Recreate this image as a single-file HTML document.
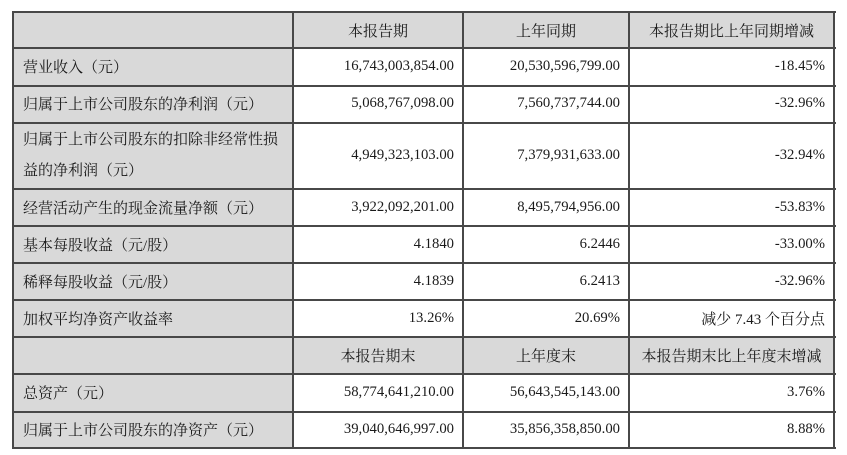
<!DOCTYPE html>
<html><head><meta charset="utf-8">
<style>
html,body{margin:0;padding:0;background:#fff;}
body{width:847px;height:455px;position:relative;overflow:hidden;
font-family:"Liberation Serif","Noto Serif CJK SC",serif;font-size:14.7px;color:#1a1a1a;}
.g{position:absolute;background:#d9d9d9;}
.h{position:absolute;left:12px;width:824px;height:2px;background:#484848;}
.v{position:absolute;top:11px;height:438px;width:2px;background:#484848;}
.c{position:absolute;display:flex;align-items:center;white-space:nowrap;}
.l{justify-content:flex-start;padding-left:10px;box-sizing:border-box;font-size:15px;}
.r{justify-content:flex-end;padding-right:9px;box-sizing:border-box;}
.m{justify-content:center;font-size:15px;}
</style></head><body>
<div class="g" style="left:13px;top:12px;width:821px;height:36px"></div>
<div class="g" style="left:13px;top:12px;width:280px;height:436px"></div>
<div class="g" style="left:13px;top:337px;width:821px;height:37px"></div>

<div class="h" style="top:11px"></div>
<div class="h" style="top:47px"></div>
<div class="h" style="top:85px"></div>
<div class="h" style="top:122px"></div>
<div class="h" style="top:188px"></div>
<div class="h" style="top:225px"></div>
<div class="h" style="top:262px"></div>
<div class="h" style="top:299px"></div>
<div class="h" style="top:336px"></div>
<div class="h" style="top:373px"></div>
<div class="h" style="top:411px"></div>
<div class="h" style="top:447px"></div>

<div class="v" style="left:12px"></div>
<div class="v" style="left:292px"></div>
<div class="v" style="left:462px"></div>
<div class="v" style="left:628px"></div>
<div class="v" style="left:833px"></div>

<!-- header 1 -->
<div class="c m" style="left:293px;top:12px;width:170px;height:36px">本报告期</div>
<div class="c m" style="left:463px;top:12px;width:166px;height:36px">上年同期</div>
<div class="c m" style="left:629px;top:12px;width:205px;height:36px">本报告期比上年同期增减</div>

<!-- rows -->
<div class="c l" style="left:13px;top:48px;width:280px;height:37px">营业收入（元）</div>
<div class="c r" style="left:293px;top:48px;width:170px;height:37px">16,743,003,854.00</div>
<div class="c r" style="left:463px;top:48px;width:166px;height:37px">20,530,596,799.00</div>
<div class="c r" style="left:629px;top:48px;width:205px;height:37px">-18.45%</div>

<div class="c l" style="left:13px;top:85px;width:280px;height:37px">归属于上市公司股东的净利润（元）</div>
<div class="c r" style="left:293px;top:85px;width:170px;height:37px">5,068,767,098.00</div>
<div class="c r" style="left:463px;top:85px;width:166px;height:37px">7,560,737,744.00</div>
<div class="c r" style="left:629px;top:85px;width:205px;height:37px">-32.96%</div>

<div class="c l" style="left:13px;top:122px;width:280px;height:67px;white-space:normal;line-height:30.6px;padding-top:1px">归属于上市公司股东的扣除非经常性损<br>益的净利润（元）</div>
<div class="c r" style="left:293px;top:122px;width:170px;height:67px">4,949,323,103.00</div>
<div class="c r" style="left:463px;top:122px;width:166px;height:67px">7,379,931,633.00</div>
<div class="c r" style="left:629px;top:122px;width:205px;height:67px">-32.94%</div>

<div class="c l" style="left:13px;top:189px;width:280px;height:37px">经营活动产生的现金流量净额（元）</div>
<div class="c r" style="left:293px;top:189px;width:170px;height:37px">3,922,092,201.00</div>
<div class="c r" style="left:463px;top:189px;width:166px;height:37px">8,495,794,956.00</div>
<div class="c r" style="left:629px;top:189px;width:205px;height:37px">-53.83%</div>

<div class="c l" style="left:13px;top:226px;width:280px;height:37px">基本每股收益（元/股）</div>
<div class="c r" style="left:293px;top:226px;width:170px;height:37px">4.1840</div>
<div class="c r" style="left:463px;top:226px;width:166px;height:37px">6.2446</div>
<div class="c r" style="left:629px;top:226px;width:205px;height:37px">-33.00%</div>

<div class="c l" style="left:13px;top:263px;width:280px;height:37px">稀释每股收益（元/股）</div>
<div class="c r" style="left:293px;top:263px;width:170px;height:37px">4.1839</div>
<div class="c r" style="left:463px;top:263px;width:166px;height:37px">6.2413</div>
<div class="c r" style="left:629px;top:263px;width:205px;height:37px">-32.96%</div>

<div class="c l" style="left:13px;top:300px;width:280px;height:37px">加权平均净资产收益率</div>
<div class="c r" style="left:293px;top:300px;width:170px;height:37px">13.26%</div>
<div class="c r" style="left:463px;top:300px;width:166px;height:37px">20.69%</div>
<div class="c r" style="left:629px;top:300px;width:205px;height:37px;font-size:15px">减少 7.43 个百分点</div>

<!-- header 2 -->
<div class="c m" style="left:293px;top:337px;width:170px;height:37px">本报告期末</div>
<div class="c m" style="left:463px;top:337px;width:166px;height:37px">上年度末</div>
<div class="c m" style="left:629px;top:337px;width:205px;height:37px">本报告期末比上年度末增减</div>

<div class="c l" style="left:13px;top:374px;width:280px;height:37px">总资产（元）</div>
<div class="c r" style="left:293px;top:374px;width:170px;height:37px">58,774,641,210.00</div>
<div class="c r" style="left:463px;top:374px;width:166px;height:37px">56,643,545,143.00</div>
<div class="c r" style="left:629px;top:374px;width:205px;height:37px">3.76%</div>

<div class="c l" style="left:13px;top:411px;width:280px;height:37px">归属于上市公司股东的净资产（元）</div>
<div class="c r" style="left:293px;top:411px;width:170px;height:37px">39,040,646,997.00</div>
<div class="c r" style="left:463px;top:411px;width:166px;height:37px">35,856,358,850.00</div>
<div class="c r" style="left:629px;top:411px;width:205px;height:37px">8.88%</div>
</body></html>
